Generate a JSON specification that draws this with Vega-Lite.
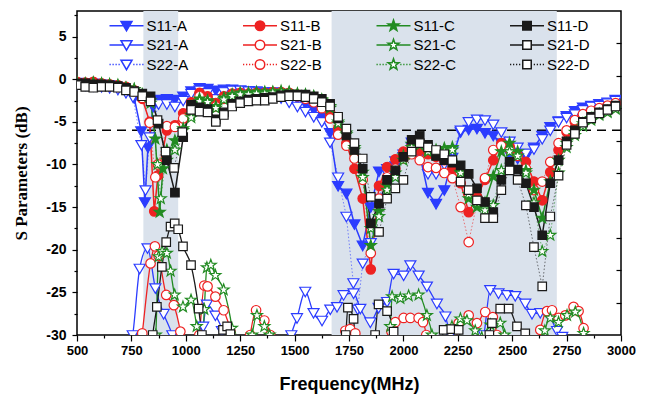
{
"$schema":"https://vega.github.io/schema/vega-lite/v6.json",
"width":544,"height":324,
"autosize":{"type":"none"},
"padding":{"left":77,"top":11,"right":31,"bottom":63},
"background":"white",
"config":{"view":{"stroke":"#000","strokeWidth":1.5},"axis":{"domain":false,"tickColor":"#000","tickWidth":1.2,"labelColor":"#000","titleColor":"#000","grid":false}},
"data":{"values":[
{"s":"S11-A","f":500,"v":-0.4},{"s":"S11-A","f":538,"v":-0.5},{"s":"S11-A","f":575,"v":-0.5},{"s":"S11-A","f":613,"v":-0.6},{"s":"S11-A","f":650,"v":-0.7},{"s":"S11-A","f":688,"v":-0.9},{"s":"S11-A","f":725,"v":-1.3},{"s":"S11-A","f":763,"v":-2.2},{"s":"S11-A","f":795,"v":-6.1},{"s":"S11-A","f":812,"v":-14.4},{"s":"S11-A","f":826,"v":-8.0},{"s":"S11-A","f":850,"v":-3.2},{"s":"S11-A","f":875,"v":-2.4},{"s":"S11-A","f":913,"v":-2.3},{"s":"S11-A","f":950,"v":-2.4},{"s":"S11-A","f":988,"v":-2.0},{"s":"S11-A","f":1025,"v":-1.4},{"s":"S11-A","f":1063,"v":-1.0},{"s":"S11-A","f":1100,"v":-1.1},{"s":"S11-A","f":1138,"v":-1.3},{"s":"S11-A","f":1175,"v":-1.2},{"s":"S11-A","f":1213,"v":-1.2},{"s":"S11-A","f":1250,"v":-1.3},{"s":"S11-A","f":1288,"v":-1.4},{"s":"S11-A","f":1325,"v":-1.4},{"s":"S11-A","f":1363,"v":-1.5},{"s":"S11-A","f":1400,"v":-1.5},{"s":"S11-A","f":1438,"v":-1.7},{"s":"S11-A","f":1475,"v":-1.9},{"s":"S11-A","f":1513,"v":-2.3},{"s":"S11-A","f":1550,"v":-2.9},{"s":"S11-A","f":1588,"v":-3.6},{"s":"S11-A","f":1625,"v":-4.5},{"s":"S11-A","f":1663,"v":-6.3},{"s":"S11-A","f":1700,"v":-12.5},{"s":"S11-A","f":1738,"v":-13.4},{"s":"S11-A","f":1775,"v":-17.0},{"s":"S11-A","f":1813,"v":-19.5},{"s":"S11-A","f":1850,"v":-15.0},{"s":"S11-A","f":1888,"v":-10.8},{"s":"S11-A","f":1925,"v":-10.5},{"s":"S11-A","f":1963,"v":-10.2},{"s":"S11-A","f":2000,"v":-9.1},{"s":"S11-A","f":2038,"v":-7.4},{"s":"S11-A","f":2075,"v":-8.8},{"s":"S11-A","f":2113,"v":-13.3},{"s":"S11-A","f":2150,"v":-14.6},{"s":"S11-A","f":2188,"v":-13.0},{"s":"S11-A","f":2225,"v":-9.2},{"s":"S11-A","f":2263,"v":-6.2},{"s":"S11-A","f":2300,"v":-5.9},{"s":"S11-A","f":2338,"v":-5.8},{"s":"S11-A","f":2375,"v":-6.3},{"s":"S11-A","f":2413,"v":-6.6},{"s":"S11-A","f":2450,"v":-7.5},{"s":"S11-A","f":2488,"v":-8.8},{"s":"S11-A","f":2525,"v":-9.3},{"s":"S11-A","f":2563,"v":-9.1},{"s":"S11-A","f":2600,"v":-8.0},{"s":"S11-A","f":2638,"v":-6.6},{"s":"S11-A","f":2675,"v":-5.6},{"s":"S11-A","f":2713,"v":-4.9},{"s":"S11-A","f":2750,"v":-4.3},{"s":"S11-A","f":2788,"v":-3.7},{"s":"S11-A","f":2825,"v":-3.3},{"s":"S11-A","f":2863,"v":-3.1},{"s":"S11-A","f":2900,"v":-2.9},{"s":"S11-A","f":2938,"v":-2.7},{"s":"S11-A","f":2975,"v":-2.4},
{"s":"S22-A","f":500,"v":-0.6},{"s":"S22-A","f":538,"v":-0.7},{"s":"S22-A","f":575,"v":-0.8},{"s":"S22-A","f":613,"v":-0.9},{"s":"S22-A","f":650,"v":-1.0},{"s":"S22-A","f":688,"v":-1.2},{"s":"S22-A","f":725,"v":-1.6},{"s":"S22-A","f":757,"v":-2.1},{"s":"S22-A","f":796,"v":-7.7},{"s":"S22-A","f":815,"v":-13.0},{"s":"S22-A","f":834,"v":-6.8},{"s":"S22-A","f":875,"v":-2.9},{"s":"S22-A","f":913,"v":-2.9},{"s":"S22-A","f":950,"v":-3.2},{"s":"S22-A","f":988,"v":-2.5},{"s":"S22-A","f":1025,"v":-1.7},{"s":"S22-A","f":1063,"v":-1.3},{"s":"S22-A","f":1100,"v":-1.6},{"s":"S22-A","f":1138,"v":-2.3},{"s":"S22-A","f":1175,"v":-1.5},{"s":"S22-A","f":1213,"v":-1.3},{"s":"S22-A","f":1250,"v":-1.3},{"s":"S22-A","f":1288,"v":-1.4},{"s":"S22-A","f":1325,"v":-1.5},{"s":"S22-A","f":1363,"v":-1.6},{"s":"S22-A","f":1400,"v":-1.8},{"s":"S22-A","f":1438,"v":-2.2},{"s":"S22-A","f":1475,"v":-2.7},{"s":"S22-A","f":1513,"v":-3.2},{"s":"S22-A","f":1550,"v":-3.8},{"s":"S22-A","f":1588,"v":-4.4},{"s":"S22-A","f":1625,"v":-5.0},{"s":"S22-A","f":1663,"v":-7.4},{"s":"S22-A","f":1700,"v":-11.5},{"s":"S22-A","f":1738,"v":-16.1},{"s":"S22-A","f":1770,"v":-23.9},{"s":"S22-A","f":1790,"v":-27.0},{"s":"S22-A","f":1813,"v":-21.6},{"s":"S22-A","f":1850,"v":-19.2},{"s":"S22-A","f":1888,"v":-14.0},{"s":"S22-A","f":1925,"v":-11.0},{"s":"S22-A","f":1963,"v":-9.6},{"s":"S22-A","f":2000,"v":-8.8},{"s":"S22-A","f":2038,"v":-8.0},{"s":"S22-A","f":2075,"v":-8.3},{"s":"S22-A","f":2113,"v":-11.1},{"s":"S22-A","f":2150,"v":-11.1},{"s":"S22-A","f":2188,"v":-10.0},{"s":"S22-A","f":2225,"v":-8.4},{"s":"S22-A","f":2263,"v":-6.0},{"s":"S22-A","f":2300,"v":-5.0},{"s":"S22-A","f":2338,"v":-4.7},{"s":"S22-A","f":2375,"v":-4.8},{"s":"S22-A","f":2413,"v":-5.3},{"s":"S22-A","f":2450,"v":-6.2},{"s":"S22-A","f":2488,"v":-7.3},{"s":"S22-A","f":2525,"v":-8.0},{"s":"S22-A","f":2563,"v":-8.7},{"s":"S22-A","f":2600,"v":-8.2},{"s":"S22-A","f":2638,"v":-7.0},{"s":"S22-A","f":2675,"v":-6.0},{"s":"S22-A","f":2713,"v":-5.0},{"s":"S22-A","f":2750,"v":-4.5},{"s":"S22-A","f":2788,"v":-4.1},{"s":"S22-A","f":2825,"v":-3.6},{"s":"S22-A","f":2863,"v":-3.2},{"s":"S22-A","f":2900,"v":-3.1},{"s":"S22-A","f":2938,"v":-2.8},{"s":"S22-A","f":2975,"v":-2.5},
{"s":"S21-A","f":720,"v":-33},{"s":"S21-A","f":756,"v":-30.0},{"s":"S21-A","f":788,"v":-22.2},{"s":"S21-A","f":824,"v":-19.8},{"s":"S21-A","f":860,"v":-24.5},{"s":"S21-A","f":898,"v":-27.5},{"s":"S21-A","f":938,"v":-30.0},{"s":"S21-A","f":960,"v":-32},{"s":"S21-A","f":1065,"v":-32},{"s":"S21-A","f":1080,"v":-29.0},{"s":"S21-A","f":1097,"v":-26.4},{"s":"S21-A","f":1136,"v":-27.7},{"s":"S21-A","f":1166,"v":-29.5},{"s":"S21-A","f":1182,"v":-32},{"s":"S21-A","f":1470,"v":-32},{"s":"S21-A","f":1485,"v":-30.0},{"s":"S21-A","f":1511,"v":-28.0},{"s":"S21-A","f":1549,"v":-24.9},{"s":"S21-A","f":1587,"v":-27.4},{"s":"S21-A","f":1626,"v":-28.3},{"s":"S21-A","f":1664,"v":-27.0},{"s":"S21-A","f":1695,"v":-26.7},{"s":"S21-A","f":1725,"v":-25.3},{"s":"S21-A","f":1771,"v":-25.1},{"s":"S21-A","f":1802,"v":-26.9},{"s":"S21-A","f":1848,"v":-28.5},{"s":"S21-A","f":1886,"v":-26.8},{"s":"S21-A","f":1925,"v":-26.1},{"s":"S21-A","f":1955,"v":-22.8},{"s":"S21-A","f":2001,"v":-23.0},{"s":"S21-A","f":2032,"v":-21.8},{"s":"S21-A","f":2070,"v":-23.0},{"s":"S21-A","f":2108,"v":-24.3},{"s":"S21-A","f":2154,"v":-26.3},{"s":"S21-A","f":2193,"v":-27.8},{"s":"S21-A","f":2215,"v":-30.0},{"s":"S21-A","f":2240,"v":-32},{"s":"S21-A","f":2350,"v":-32},{"s":"S21-A","f":2370,"v":-30.0},{"s":"S21-A","f":2399,"v":-24.7},{"s":"S21-A","f":2437,"v":-25.1},{"s":"S21-A","f":2476,"v":-25.3},{"s":"S21-A","f":2514,"v":-25.4},{"s":"S21-A","f":2560,"v":-26.3},{"s":"S21-A","f":2591,"v":-27.5},{"s":"S21-A","f":2629,"v":-27.4},{"s":"S21-A","f":2667,"v":-27.7},{"s":"S21-A","f":2706,"v":-29.5},{"s":"S21-A","f":2730,"v":-30.2},{"s":"S21-A","f":2760,"v":-32},
{"s":"S11-B","f":500,"v":-0.3},{"s":"S11-B","f":538,"v":-0.4},{"s":"S11-B","f":575,"v":-0.3},{"s":"S11-B","f":613,"v":-0.5},{"s":"S11-B","f":650,"v":-0.6},{"s":"S11-B","f":688,"v":-0.7},{"s":"S11-B","f":725,"v":-0.9},{"s":"S11-B","f":763,"v":-1.3},{"s":"S11-B","f":800,"v":-2.3},{"s":"S11-B","f":834,"v":-5.0},{"s":"S11-B","f":855,"v":-15.5},{"s":"S11-B","f":872,"v":-11.3},{"s":"S11-B","f":913,"v":-6.0},{"s":"S11-B","f":950,"v":-5.4},{"s":"S11-B","f":988,"v":-4.0},{"s":"S11-B","f":1025,"v":-2.7},{"s":"S11-B","f":1063,"v":-1.6},{"s":"S11-B","f":1100,"v":-2.0},{"s":"S11-B","f":1138,"v":-2.8},{"s":"S11-B","f":1175,"v":-2.0},{"s":"S11-B","f":1213,"v":-1.7},{"s":"S11-B","f":1250,"v":-1.6},{"s":"S11-B","f":1288,"v":-1.7},{"s":"S11-B","f":1325,"v":-1.6},{"s":"S11-B","f":1363,"v":-1.6},{"s":"S11-B","f":1400,"v":-1.5},{"s":"S11-B","f":1438,"v":-1.5},{"s":"S11-B","f":1475,"v":-1.6},{"s":"S11-B","f":1513,"v":-1.8},{"s":"S11-B","f":1550,"v":-2.0},{"s":"S11-B","f":1588,"v":-2.3},{"s":"S11-B","f":1625,"v":-2.8},{"s":"S11-B","f":1663,"v":-4.0},{"s":"S11-B","f":1700,"v":-5.8},{"s":"S11-B","f":1738,"v":-7.5},{"s":"S11-B","f":1775,"v":-10.5},{"s":"S11-B","f":1813,"v":-14.0},{"s":"S11-B","f":1850,"v":-22.3},{"s":"S11-B","f":1888,"v":-12.5},{"s":"S11-B","f":1925,"v":-10.3},{"s":"S11-B","f":1963,"v":-9.4},{"s":"S11-B","f":2000,"v":-8.5},{"s":"S11-B","f":2038,"v":-7.8},{"s":"S11-B","f":2075,"v":-8.3},{"s":"S11-B","f":2113,"v":-8.8},{"s":"S11-B","f":2150,"v":-9.1},{"s":"S11-B","f":2188,"v":-9.5},{"s":"S11-B","f":2225,"v":-10.5},{"s":"S11-B","f":2263,"v":-12.2},{"s":"S11-B","f":2300,"v":-15.6},{"s":"S11-B","f":2338,"v":-13.8},{"s":"S11-B","f":2375,"v":-11.8},{"s":"S11-B","f":2413,"v":-9.5},{"s":"S11-B","f":2450,"v":-7.5},{"s":"S11-B","f":2488,"v":-7.9},{"s":"S11-B","f":2525,"v":-8.9},{"s":"S11-B","f":2563,"v":-9.7},{"s":"S11-B","f":2600,"v":-12.0},{"s":"S11-B","f":2638,"v":-14.2},{"s":"S11-B","f":2675,"v":-10.9},{"s":"S11-B","f":2713,"v":-8.3},{"s":"S11-B","f":2750,"v":-6.2},{"s":"S11-B","f":2788,"v":-5.0},{"s":"S11-B","f":2825,"v":-4.3},{"s":"S11-B","f":2863,"v":-3.9},{"s":"S11-B","f":2900,"v":-3.5},{"s":"S11-B","f":2938,"v":-3.2},{"s":"S11-B","f":2975,"v":-2.9},
{"s":"S22-B","f":500,"v":-0.5},{"s":"S22-B","f":538,"v":-0.6},{"s":"S22-B","f":575,"v":-0.5},{"s":"S22-B","f":613,"v":-0.6},{"s":"S22-B","f":650,"v":-0.8},{"s":"S22-B","f":688,"v":-0.9},{"s":"S22-B","f":725,"v":-1.1},{"s":"S22-B","f":763,"v":-1.4},{"s":"S22-B","f":800,"v":-2.2},{"s":"S22-B","f":834,"v":-5.1},{"s":"S22-B","f":860,"v":-11.5},{"s":"S22-B","f":872,"v":-10.0},{"s":"S22-B","f":913,"v":-5.5},{"s":"S22-B","f":950,"v":-5.6},{"s":"S22-B","f":988,"v":-4.6},{"s":"S22-B","f":1025,"v":-3.0},{"s":"S22-B","f":1063,"v":-2.0},{"s":"S22-B","f":1100,"v":-2.5},{"s":"S22-B","f":1138,"v":-3.2},{"s":"S22-B","f":1175,"v":-2.3},{"s":"S22-B","f":1213,"v":-1.9},{"s":"S22-B","f":1250,"v":-1.9},{"s":"S22-B","f":1288,"v":-2.0},{"s":"S22-B","f":1325,"v":-1.9},{"s":"S22-B","f":1363,"v":-1.8},{"s":"S22-B","f":1400,"v":-1.7},{"s":"S22-B","f":1438,"v":-1.6},{"s":"S22-B","f":1475,"v":-1.7},{"s":"S22-B","f":1513,"v":-2.0},{"s":"S22-B","f":1550,"v":-2.3},{"s":"S22-B","f":1588,"v":-2.7},{"s":"S22-B","f":1625,"v":-3.4},{"s":"S22-B","f":1663,"v":-4.6},{"s":"S22-B","f":1700,"v":-6.5},{"s":"S22-B","f":1738,"v":-7.8},{"s":"S22-B","f":1775,"v":-9.3},{"s":"S22-B","f":1813,"v":-11.8},{"s":"S22-B","f":1850,"v":-20.4},{"s":"S22-B","f":1888,"v":-14.0},{"s":"S22-B","f":1925,"v":-11.5},{"s":"S22-B","f":1963,"v":-10.5},{"s":"S22-B","f":2000,"v":-9.3},{"s":"S22-B","f":2038,"v":-8.8},{"s":"S22-B","f":2075,"v":-9.5},{"s":"S22-B","f":2113,"v":-10.3},{"s":"S22-B","f":2150,"v":-10.4},{"s":"S22-B","f":2188,"v":-11.0},{"s":"S22-B","f":2225,"v":-11.6},{"s":"S22-B","f":2263,"v":-15.0},{"s":"S22-B","f":2300,"v":-19.1},{"s":"S22-B","f":2338,"v":-14.5},{"s":"S22-B","f":2375,"v":-11.6},{"s":"S22-B","f":2413,"v":-8.3},{"s":"S22-B","f":2450,"v":-7.8},{"s":"S22-B","f":2488,"v":-8.2},{"s":"S22-B","f":2525,"v":-9.0},{"s":"S22-B","f":2563,"v":-10.5},{"s":"S22-B","f":2600,"v":-13.0},{"s":"S22-B","f":2638,"v":-12.0},{"s":"S22-B","f":2675,"v":-9.7},{"s":"S22-B","f":2713,"v":-7.5},{"s":"S22-B","f":2750,"v":-6.0},{"s":"S22-B","f":2788,"v":-4.8},{"s":"S22-B","f":2825,"v":-4.1},{"s":"S22-B","f":2863,"v":-3.7},{"s":"S22-B","f":2900,"v":-3.4},{"s":"S22-B","f":2938,"v":-3.1},{"s":"S22-B","f":2975,"v":-2.8},
{"s":"S21-B","f":790,"v":-32},{"s":"S21-B","f":800,"v":-29.8},{"s":"S21-B","f":838,"v":-21.6},{"s":"S21-B","f":858,"v":-19.6},{"s":"S21-B","f":875,"v":-20.7},{"s":"S21-B","f":910,"v":-25.3},{"s":"S21-B","f":945,"v":-26.5},{"s":"S21-B","f":975,"v":-29.6},{"s":"S21-B","f":990,"v":-32},{"s":"S21-B","f":1050,"v":-32},{"s":"S21-B","f":1062,"v":-30.0},{"s":"S21-B","f":1085,"v":-24.2},{"s":"S21-B","f":1100,"v":-24.3},{"s":"S21-B","f":1136,"v":-25.5},{"s":"S21-B","f":1174,"v":-27.1},{"s":"S21-B","f":1205,"v":-29.6},{"s":"S21-B","f":1220,"v":-32},{"s":"S21-B","f":1285,"v":-32},{"s":"S21-B","f":1296,"v":-30.0},{"s":"S21-B","f":1323,"v":-27.1},{"s":"S21-B","f":1361,"v":-28.3},{"s":"S21-B","f":1388,"v":-30.0},{"s":"S21-B","f":1400,"v":-32},{"s":"S21-B","f":1715,"v":-32},{"s":"S21-B","f":1733,"v":-29.5},{"s":"S21-B","f":1755,"v":-29.3},{"s":"S21-B","f":1779,"v":-29.8},{"s":"S21-B","f":1795,"v":-32},{"s":"S21-B","f":1930,"v":-32},{"s":"S21-B","f":1945,"v":-29.6},{"s":"S21-B","f":1963,"v":-28.5},{"s":"S21-B","f":2001,"v":-28.0},{"s":"S21-B","f":2032,"v":-28.0},{"s":"S21-B","f":2070,"v":-28.0},{"s":"S21-B","f":2090,"v":-28.5},{"s":"S21-B","f":2105,"v":-30.0},{"s":"S21-B","f":2115,"v":-32},{"s":"S21-B","f":2235,"v":-32},{"s":"S21-B","f":2254,"v":-28.6},{"s":"S21-B","f":2300,"v":-27.7},{"s":"S21-B","f":2338,"v":-28.6},{"s":"S21-B","f":2376,"v":-27.3},{"s":"S21-B","f":2411,"v":-27.9},{"s":"S21-B","f":2430,"v":-30.0},{"s":"S21-B","f":2445,"v":-32},{"s":"S21-B","f":2610,"v":-32},{"s":"S21-B","f":2629,"v":-29.4},{"s":"S21-B","f":2660,"v":-27.2},{"s":"S21-B","f":2683,"v":-27.1},{"s":"S21-B","f":2713,"v":-28.0},{"s":"S21-B","f":2744,"v":-27.7},{"s":"S21-B","f":2782,"v":-26.7},{"s":"S21-B","f":2805,"v":-27.2},{"s":"S21-B","f":2828,"v":-29.2},{"s":"S21-B","f":2840,"v":-32},
{"s":"S11-C","f":500,"v":-0.4},{"s":"S11-C","f":538,"v":-0.5},{"s":"S11-C","f":575,"v":-0.4},{"s":"S11-C","f":613,"v":-0.5},{"s":"S11-C","f":650,"v":-0.6},{"s":"S11-C","f":688,"v":-0.7},{"s":"S11-C","f":725,"v":-1.0},{"s":"S11-C","f":763,"v":-1.2},{"s":"S11-C","f":800,"v":-1.8},{"s":"S11-C","f":838,"v":-2.5},{"s":"S11-C","f":860,"v":-7.0},{"s":"S11-C","f":880,"v":-15.6},{"s":"S11-C","f":895,"v":-10.5},{"s":"S11-C","f":913,"v":-9.5},{"s":"S11-C","f":950,"v":-7.2},{"s":"S11-C","f":988,"v":-5.8},{"s":"S11-C","f":1025,"v":-4.2},{"s":"S11-C","f":1063,"v":-2.3},{"s":"S11-C","f":1100,"v":-2.5},{"s":"S11-C","f":1138,"v":-3.2},{"s":"S11-C","f":1175,"v":-2.2},{"s":"S11-C","f":1213,"v":-1.8},{"s":"S11-C","f":1250,"v":-1.6},{"s":"S11-C","f":1288,"v":-1.6},{"s":"S11-C","f":1325,"v":-1.5},{"s":"S11-C","f":1363,"v":-1.5},{"s":"S11-C","f":1400,"v":-1.5},{"s":"S11-C","f":1438,"v":-1.4},{"s":"S11-C","f":1475,"v":-1.5},{"s":"S11-C","f":1513,"v":-1.7},{"s":"S11-C","f":1550,"v":-1.8},{"s":"S11-C","f":1588,"v":-2.0},{"s":"S11-C","f":1625,"v":-2.4},{"s":"S11-C","f":1663,"v":-3.2},{"s":"S11-C","f":1700,"v":-5.0},{"s":"S11-C","f":1738,"v":-6.3},{"s":"S11-C","f":1775,"v":-8.0},{"s":"S11-C","f":1813,"v":-10.9},{"s":"S11-C","f":1850,"v":-19.5},{"s":"S11-C","f":1888,"v":-15.5},{"s":"S11-C","f":1925,"v":-12.5},{"s":"S11-C","f":1963,"v":-11.0},{"s":"S11-C","f":2000,"v":-9.0},{"s":"S11-C","f":2038,"v":-7.6},{"s":"S11-C","f":2075,"v":-7.5},{"s":"S11-C","f":2113,"v":-8.3},{"s":"S11-C","f":2150,"v":-8.3},{"s":"S11-C","f":2188,"v":-8.1},{"s":"S11-C","f":2225,"v":-8.0},{"s":"S11-C","f":2263,"v":-10.9},{"s":"S11-C","f":2300,"v":-14.0},{"s":"S11-C","f":2338,"v":-15.0},{"s":"S11-C","f":2375,"v":-14.5},{"s":"S11-C","f":2413,"v":-11.4},{"s":"S11-C","f":2450,"v":-8.5},{"s":"S11-C","f":2488,"v":-7.5},{"s":"S11-C","f":2525,"v":-8.5},{"s":"S11-C","f":2563,"v":-10.7},{"s":"S11-C","f":2600,"v":-13.0},{"s":"S11-C","f":2638,"v":-16.3},{"s":"S11-C","f":2675,"v":-12.0},{"s":"S11-C","f":2713,"v":-9.5},{"s":"S11-C","f":2750,"v":-7.5},{"s":"S11-C","f":2788,"v":-6.2},{"s":"S11-C","f":2825,"v":-5.2},{"s":"S11-C","f":2863,"v":-4.6},{"s":"S11-C","f":2900,"v":-4.1},{"s":"S11-C","f":2938,"v":-3.8},{"s":"S11-C","f":2975,"v":-3.4},
{"s":"S22-C","f":500,"v":-0.5},{"s":"S22-C","f":538,"v":-0.6},{"s":"S22-C","f":575,"v":-0.5},{"s":"S22-C","f":613,"v":-0.6},{"s":"S22-C","f":650,"v":-0.7},{"s":"S22-C","f":688,"v":-0.8},{"s":"S22-C","f":725,"v":-1.1},{"s":"S22-C","f":763,"v":-1.2},{"s":"S22-C","f":800,"v":-1.9},{"s":"S22-C","f":838,"v":-2.8},{"s":"S22-C","f":870,"v":-10.0},{"s":"S22-C","f":885,"v":-14.0},{"s":"S22-C","f":913,"v":-8.3},{"s":"S22-C","f":950,"v":-8.3},{"s":"S22-C","f":988,"v":-6.0},{"s":"S22-C","f":1025,"v":-4.5},{"s":"S22-C","f":1063,"v":-2.6},{"s":"S22-C","f":1100,"v":-2.7},{"s":"S22-C","f":1138,"v":-3.4},{"s":"S22-C","f":1175,"v":-2.4},{"s":"S22-C","f":1213,"v":-2.0},{"s":"S22-C","f":1250,"v":-1.8},{"s":"S22-C","f":1288,"v":-1.8},{"s":"S22-C","f":1325,"v":-1.7},{"s":"S22-C","f":1363,"v":-1.7},{"s":"S22-C","f":1400,"v":-1.6},{"s":"S22-C","f":1438,"v":-1.6},{"s":"S22-C","f":1475,"v":-1.6},{"s":"S22-C","f":1513,"v":-1.8},{"s":"S22-C","f":1550,"v":-1.9},{"s":"S22-C","f":1588,"v":-2.1},{"s":"S22-C","f":1625,"v":-2.5},{"s":"S22-C","f":1663,"v":-3.4},{"s":"S22-C","f":1700,"v":-5.2},{"s":"S22-C","f":1738,"v":-6.5},{"s":"S22-C","f":1775,"v":-8.3},{"s":"S22-C","f":1813,"v":-11.5},{"s":"S22-C","f":1850,"v":-17.5},{"s":"S22-C","f":1888,"v":-16.1},{"s":"S22-C","f":1925,"v":-13.0},{"s":"S22-C","f":1963,"v":-11.5},{"s":"S22-C","f":2000,"v":-9.5},{"s":"S22-C","f":2038,"v":-8.0},{"s":"S22-C","f":2075,"v":-7.7},{"s":"S22-C","f":2113,"v":-8.5},{"s":"S22-C","f":2150,"v":-8.7},{"s":"S22-C","f":2188,"v":-8.5},{"s":"S22-C","f":2225,"v":-8.3},{"s":"S22-C","f":2263,"v":-11.0},{"s":"S22-C","f":2300,"v":-13.5},{"s":"S22-C","f":2338,"v":-14.5},{"s":"S22-C","f":2375,"v":-15.4},{"s":"S22-C","f":2413,"v":-14.8},{"s":"S22-C","f":2450,"v":-10.7},{"s":"S22-C","f":2488,"v":-8.5},{"s":"S22-C","f":2525,"v":-9.0},{"s":"S22-C","f":2563,"v":-11.0},{"s":"S22-C","f":2600,"v":-14.5},{"s":"S22-C","f":2638,"v":-20.2},{"s":"S22-C","f":2675,"v":-18.3},{"s":"S22-C","f":2713,"v":-11.0},{"s":"S22-C","f":2750,"v":-8.0},{"s":"S22-C","f":2788,"v":-6.6},{"s":"S22-C","f":2825,"v":-5.5},{"s":"S22-C","f":2863,"v":-4.8},{"s":"S22-C","f":2900,"v":-4.2},{"s":"S22-C","f":2938,"v":-3.9},{"s":"S22-C","f":2975,"v":-3.5},
{"s":"S21-C","f":855,"v":-32},{"s":"S21-C","f":862,"v":-30.0},{"s":"S21-C","f":875,"v":-20.8},{"s":"S21-C","f":891,"v":-20.2},{"s":"S21-C","f":913,"v":-20.4},{"s":"S21-C","f":930,"v":-22.5},{"s":"S21-C","f":949,"v":-25.3},{"s":"S21-C","f":987,"v":-26.7},{"s":"S21-C","f":1024,"v":-25.9},{"s":"S21-C","f":1050,"v":-29.0},{"s":"S21-C","f":1065,"v":-32},{"s":"S21-C","f":1075,"v":-32},{"s":"S21-C","f":1085,"v":-27.0},{"s":"S21-C","f":1097,"v":-22.1},{"s":"S21-C","f":1115,"v":-21.8},{"s":"S21-C","f":1136,"v":-23.0},{"s":"S21-C","f":1174,"v":-24.7},{"s":"S21-C","f":1212,"v":-29.2},{"s":"S21-C","f":1225,"v":-32},{"s":"S21-C","f":1295,"v":-32},{"s":"S21-C","f":1305,"v":-30.0},{"s":"S21-C","f":1327,"v":-27.7},{"s":"S21-C","f":1361,"v":-29.0},{"s":"S21-C","f":1385,"v":-30.0},{"s":"S21-C","f":1395,"v":-32},{"s":"S21-C","f":1930,"v":-32},{"s":"S21-C","f":1940,"v":-29.0},{"s":"S21-C","f":1948,"v":-25.5},{"s":"S21-C","f":1986,"v":-25.7},{"s":"S21-C","f":2024,"v":-25.4},{"s":"S21-C","f":2070,"v":-25.3},{"s":"S21-C","f":2108,"v":-27.7},{"s":"S21-C","f":2131,"v":-30.0},{"s":"S21-C","f":2140,"v":-32},{"s":"S21-C","f":2205,"v":-32},{"s":"S21-C","f":2223,"v":-29.0},{"s":"S21-C","f":2262,"v":-28.1},{"s":"S21-C","f":2292,"v":-28.3},{"s":"S21-C","f":2330,"v":-29.5},{"s":"S21-C","f":2360,"v":-30.3},{"s":"S21-C","f":2400,"v":-28.8},{"s":"S21-C","f":2445,"v":-28.6},{"s":"S21-C","f":2465,"v":-30.0},{"s":"S21-C","f":2480,"v":-32},{"s":"S21-C","f":2630,"v":-32},{"s":"S21-C","f":2650,"v":-29.5},{"s":"S21-C","f":2675,"v":-28.0},{"s":"S21-C","f":2713,"v":-28.5},{"s":"S21-C","f":2752,"v":-27.7},{"s":"S21-C","f":2790,"v":-27.3},{"s":"S21-C","f":2828,"v":-29.8},{"s":"S21-C","f":2840,"v":-32},
{"s":"S11-D","f":500,"v":-0.5},{"s":"S11-D","f":538,"v":-0.5},{"s":"S11-D","f":575,"v":-0.6},{"s":"S11-D","f":613,"v":-0.6},{"s":"S11-D","f":650,"v":-0.7},{"s":"S11-D","f":688,"v":-0.8},{"s":"S11-D","f":725,"v":-1.0},{"s":"S11-D","f":763,"v":-1.4},{"s":"S11-D","f":800,"v":-1.7},{"s":"S11-D","f":838,"v":-2.0},{"s":"S11-D","f":875,"v":-5.2},{"s":"S11-D","f":913,"v":-9.5},{"s":"S11-D","f":950,"v":-13.3},{"s":"S11-D","f":988,"v":-6.8},{"s":"S11-D","f":1025,"v":-3.0},{"s":"S11-D","f":1063,"v":-3.3},{"s":"S11-D","f":1100,"v":-3.5},{"s":"S11-D","f":1138,"v":-4.7},{"s":"S11-D","f":1175,"v":-3.9},{"s":"S11-D","f":1213,"v":-2.9},{"s":"S11-D","f":1250,"v":-2.6},{"s":"S11-D","f":1288,"v":-2.4},{"s":"S11-D","f":1325,"v":-2.3},{"s":"S11-D","f":1363,"v":-2.2},{"s":"S11-D","f":1400,"v":-2.1},{"s":"S11-D","f":1438,"v":-1.9},{"s":"S11-D","f":1475,"v":-1.8},{"s":"S11-D","f":1513,"v":-1.8},{"s":"S11-D","f":1550,"v":-1.8},{"s":"S11-D","f":1588,"v":-2.0},{"s":"S11-D","f":1625,"v":-2.3},{"s":"S11-D","f":1663,"v":-2.9},{"s":"S11-D","f":1700,"v":-4.6},{"s":"S11-D","f":1738,"v":-6.6},{"s":"S11-D","f":1775,"v":-8.3},{"s":"S11-D","f":1813,"v":-10.5},{"s":"S11-D","f":1850,"v":-16.9},{"s":"S11-D","f":1888,"v":-14.6},{"s":"S11-D","f":1925,"v":-11.8},{"s":"S11-D","f":1963,"v":-10.7},{"s":"S11-D","f":2000,"v":-9.1},{"s":"S11-D","f":2038,"v":-7.1},{"s":"S11-D","f":2075,"v":-6.6},{"s":"S11-D","f":2113,"v":-7.7},{"s":"S11-D","f":2150,"v":-9.0},{"s":"S11-D","f":2188,"v":-9.5},{"s":"S11-D","f":2225,"v":-9.8},{"s":"S11-D","f":2263,"v":-10.1},{"s":"S11-D","f":2300,"v":-11.1},{"s":"S11-D","f":2338,"v":-12.8},{"s":"S11-D","f":2375,"v":-14.4},{"s":"S11-D","f":2413,"v":-15.6},{"s":"S11-D","f":2450,"v":-11.8},{"s":"S11-D","f":2488,"v":-9.7},{"s":"S11-D","f":2525,"v":-10.6},{"s":"S11-D","f":2563,"v":-12.2},{"s":"S11-D","f":2600,"v":-15.0},{"s":"S11-D","f":2638,"v":-18.3},{"s":"S11-D","f":2675,"v":-12.2},{"s":"S11-D","f":2713,"v":-9.5},{"s":"S11-D","f":2750,"v":-7.3},{"s":"S11-D","f":2788,"v":-6.0},{"s":"S11-D","f":2825,"v":-5.0},{"s":"S11-D","f":2863,"v":-4.4},{"s":"S11-D","f":2900,"v":-3.9},{"s":"S11-D","f":2938,"v":-3.5},{"s":"S11-D","f":2975,"v":-3.1},
{"s":"S22-D","f":500,"v":-0.7},{"s":"S22-D","f":538,"v":-0.9},{"s":"S22-D","f":575,"v":-1.0},{"s":"S22-D","f":613,"v":-0.9},{"s":"S22-D","f":650,"v":-0.9},{"s":"S22-D","f":688,"v":-1.0},{"s":"S22-D","f":725,"v":-1.3},{"s":"S22-D","f":763,"v":-1.5},{"s":"S22-D","f":800,"v":-2.0},{"s":"S22-D","f":838,"v":-2.6},{"s":"S22-D","f":870,"v":-4.8},{"s":"S22-D","f":907,"v":-8.5},{"s":"S22-D","f":946,"v":-10.4},{"s":"S22-D","f":984,"v":-6.2},{"s":"S22-D","f":1025,"v":-3.6},{"s":"S22-D","f":1063,"v":-3.8},{"s":"S22-D","f":1100,"v":-3.9},{"s":"S22-D","f":1138,"v":-5.0},{"s":"S22-D","f":1175,"v":-4.2},{"s":"S22-D","f":1213,"v":-3.2},{"s":"S22-D","f":1250,"v":-2.8},{"s":"S22-D","f":1288,"v":-2.6},{"s":"S22-D","f":1325,"v":-2.5},{"s":"S22-D","f":1363,"v":-2.5},{"s":"S22-D","f":1400,"v":-2.3},{"s":"S22-D","f":1438,"v":-2.1},{"s":"S22-D","f":1475,"v":-2.0},{"s":"S22-D","f":1513,"v":-2.0},{"s":"S22-D","f":1550,"v":-2.1},{"s":"S22-D","f":1588,"v":-2.3},{"s":"S22-D","f":1625,"v":-2.7},{"s":"S22-D","f":1663,"v":-3.2},{"s":"S22-D","f":1700,"v":-4.4},{"s":"S22-D","f":1738,"v":-5.8},{"s":"S22-D","f":1775,"v":-7.5},{"s":"S22-D","f":1813,"v":-9.3},{"s":"S22-D","f":1850,"v":-13.8},{"s":"S22-D","f":1888,"v":-17.9},{"s":"S22-D","f":1925,"v":-14.0},{"s":"S22-D","f":1963,"v":-12.8},{"s":"S22-D","f":2000,"v":-11.8},{"s":"S22-D","f":2038,"v":-8.5},{"s":"S22-D","f":2075,"v":-7.5},{"s":"S22-D","f":2113,"v":-8.0},{"s":"S22-D","f":2150,"v":-8.3},{"s":"S22-D","f":2188,"v":-8.8},{"s":"S22-D","f":2225,"v":-9.5},{"s":"S22-D","f":2263,"v":-12.0},{"s":"S22-D","f":2300,"v":-13.0},{"s":"S22-D","f":2338,"v":-14.2},{"s":"S22-D","f":2375,"v":-16.3},{"s":"S22-D","f":2413,"v":-16.3},{"s":"S22-D","f":2450,"v":-13.0},{"s":"S22-D","f":2488,"v":-10.7},{"s":"S22-D","f":2525,"v":-11.8},{"s":"S22-D","f":2563,"v":-14.8},{"s":"S22-D","f":2600,"v":-19.7},{"s":"S22-D","f":2638,"v":-24.3},{"s":"S22-D","f":2675,"v":-16.1},{"s":"S22-D","f":2713,"v":-11.3},{"s":"S22-D","f":2750,"v":-7.7},{"s":"S22-D","f":2788,"v":-6.4},{"s":"S22-D","f":2825,"v":-5.1},{"s":"S22-D","f":2863,"v":-4.6},{"s":"S22-D","f":2900,"v":-4.0},{"s":"S22-D","f":2938,"v":-3.6},{"s":"S22-D","f":2975,"v":-3.2},
{"s":"S21-D","f":840,"v":-32},{"s":"S21-D","f":848,"v":-30.0},{"s":"S21-D","f":867,"v":-26.7},{"s":"S21-D","f":890,"v":-22.0},{"s":"S21-D","f":910,"v":-19.1},{"s":"S21-D","f":930,"v":-17.3},{"s":"S21-D","f":949,"v":-16.9},{"s":"S21-D","f":965,"v":-17.6},{"s":"S21-D","f":987,"v":-19.6},{"s":"S21-D","f":1024,"v":-21.8},{"s":"S21-D","f":1059,"v":-26.9},{"s":"S21-D","f":1074,"v":-30.0},{"s":"S21-D","f":1085,"v":-32},{"s":"S21-D","f":1150,"v":-32},{"s":"S21-D","f":1171,"v":-29.4},{"s":"S21-D","f":1190,"v":-29.0},{"s":"S21-D","f":1205,"v":-29.9},{"s":"S21-D","f":1215,"v":-32},{"s":"S21-D","f":1725,"v":-32},{"s":"S21-D","f":1735,"v":-30.0},{"s":"S21-D","f":1745,"v":-26.8},{"s":"S21-D","f":1771,"v":-28.1},{"s":"S21-D","f":1782,"v":-32},{"s":"S21-D","f":1860,"v":-32},{"s":"S21-D","f":1870,"v":-30.0},{"s":"S21-D","f":1886,"v":-26.4},{"s":"S21-D","f":1925,"v":-27.2},{"s":"S21-D","f":1955,"v":-29.6},{"s":"S21-D","f":1965,"v":-32},{"s":"S21-D","f":2170,"v":-32},{"s":"S21-D","f":2185,"v":-29.4},{"s":"S21-D","f":2220,"v":-29.3},{"s":"S21-D","f":2254,"v":-29.4},{"s":"S21-D","f":2270,"v":-32},{"s":"S21-D","f":2385,"v":-32},{"s":"S21-D","f":2395,"v":-30.0},{"s":"S21-D","f":2407,"v":-28.6},{"s":"S21-D","f":2445,"v":-26.9},{"s":"S21-D","f":2484,"v":-26.9},{"s":"S21-D","f":2522,"v":-29.0},{"s":"S21-D","f":2560,"v":-29.8},{"s":"S21-D","f":2575,"v":-32}
]},
"resolve":{"scale":{"stroke":"independent","fill":"independent","shape":"independent"},"axis":{"x":"independent","y":"independent"}},
"layer":[
{"data":{"values":[{"a":805,"b":965},{"a":1670,"b":2705}]},
 "mark":{"type":"rect","color":"#dae2ec"},
 "encoding":{"x":{"field":"a","type":"quantitative","scale":{"domain":[500,3000],"nice":false,"zero":false},"axis":null},"x2":{"field":"b"}}},
{"data":{"values":[{}]},
 "mark":{"type":"rule","strokeDash":[9,6],"strokeWidth":1.5,"color":"#000"},
 "encoding":{"y":{"datum":-6,"type":"quantitative","scale":{"domain":[-30,8],"nice":false,"zero":false},"axis":null}}},
{"transform":[{"filter":"indexof(datum.s,'S22')===0"}],
 "mark":{"type":"line","clip":true,"strokeWidth":1,"strokeDash":[1.5,2],"opacity":0.6},
 "encoding":{"x":{"field":"f","type":"quantitative","scale":{"domain":[500,3000],"nice":false,"zero":false},"axis":null},
  "y":{"field":"v","type":"quantitative","scale":{"domain":[-30,8],"nice":false,"zero":false},"axis":null},
  "stroke":{"field":"s","type":"nominal","legend":null,"scale":{"domain":["S11-A","S11-B","S11-C","S11-D","S21-A","S21-B","S21-C","S21-D","S22-A","S22-B","S22-C","S22-D"],"range":["#2b3cff","#ee2222","#228b22","#1a1a1a","#2b3cff","#ee2222","#228b22","#1a1a1a","#2b3cff","#ee2222","#228b22","#1a1a1a"]}}}},
{"transform":[{"filter":"indexof(datum.s,'S21')===0"}],
 "mark":{"type":"line","clip":true,"strokeWidth":1.3,"interpolate":"monotone"},
 "encoding":{"x":{"field":"f","type":"quantitative","scale":{"domain":[500,3000],"nice":false,"zero":false},"axis":null},
  "y":{"field":"v","type":"quantitative","scale":{"domain":[-30,8],"nice":false,"zero":false},"axis":null},
  "stroke":{"field":"s","type":"nominal","legend":null,"scale":{"domain":["S11-A","S11-B","S11-C","S11-D","S21-A","S21-B","S21-C","S21-D","S22-A","S22-B","S22-C","S22-D"],"range":["#2b3cff","#ee2222","#228b22","#1a1a1a","#2b3cff","#ee2222","#228b22","#1a1a1a","#2b3cff","#ee2222","#228b22","#1a1a1a"]}}}},
{"transform":[{"filter":"indexof(datum.s,'S11')===0"}],
 "mark":{"type":"line","clip":true,"strokeWidth":1.5},
 "encoding":{"x":{"field":"f","type":"quantitative","scale":{"domain":[500,3000],"nice":false,"zero":false},"axis":null},
  "y":{"field":"v","type":"quantitative","scale":{"domain":[-30,8],"nice":false,"zero":false},
   "axis":{"orient":"right","values":[-26.2,-22.4,-18.6,-14.8,-11,-7.2,-3.4,0.4,4.2],"labels":false,"tickSize":-5,"title":null,"domain":false,"grid":false}},
  "stroke":{"field":"s","type":"nominal","legend":null,"scale":{"domain":["S11-A","S11-B","S11-C","S11-D","S21-A","S21-B","S21-C","S21-D","S22-A","S22-B","S22-C","S22-D"],"range":["#2b3cff","#ee2222","#228b22","#1a1a1a","#2b3cff","#ee2222","#228b22","#1a1a1a","#2b3cff","#ee2222","#228b22","#1a1a1a"]}}}},
{"mark":{"type":"point","clip":true,"size":100,"strokeWidth":1.2,"opacity":1},
 "encoding":{
  "x":{"field":"f","type":"quantitative","scale":{"domain":[500,3000],"nice":false,"zero":false},
   "axis":{"orient":"bottom","values":[500,625,750,875,1000,1125,1250,1375,1500,1625,1750,1875,2000,2125,2250,2375,2500,2625,2750,2875,3000],
    "labelExpr":"datum.value % 250 === 0 ? '' + datum.value : ''",
    "tickSize":{"condition":{"test":"datum.value % 250 === 0","value":6},"value":3},
    "labelFont":"Liberation Sans","labelFontWeight":"bold","labelFontSize":13,"labelPadding":3,"labelFlush":false,"labelOverlap":false,
    "title":"Frequency(MHz)","titleFont":"Liberation Sans","titleFontWeight":"bold","titleFontSize":18,"titlePadding":18}},
  "y":{"field":"v","type":"quantitative","scale":{"domain":[-30,8],"nice":false,"zero":false},
   "axis":{"orient":"left","values":[-30,-27.5,-25,-22.5,-20,-17.5,-15,-12.5,-10,-7.5,-5,-2.5,0,2.5,5,7.5],
    "labelExpr":"datum.value % 5 === 0 ? '' + datum.value : ''",
    "tickSize":{"condition":{"test":"datum.value % 5 === 0","value":5},"value":3},
    "labelFont":"Liberation Sans","labelFontWeight":"bold","labelFontSize":14,"labelPadding":6,"labelOverlap":false,
    "title":"S Parameters  (dB)","titleFont":"Liberation Serif","titleFontWeight":"bold","titleFontSize":17,"titlePadding":15}},
  "shape":{"field":"s","type":"nominal","legend":null,"scale":{"domain":["S11-A","S11-B","S11-C","S11-D","S21-A","S21-B","S21-C","S21-D","S22-A","S22-B","S22-C","S22-D"],
   "range":["M-1.1,-0.85L1.1,-0.85L0,1.05Z","M-0.95,0A0.95,0.95,0,1,0,0.95,0A0.95,0.95,0,1,0,-0.95,0Z","M0,-1.15L0.27,-0.37L1.09,-0.36L0.44,0.14L0.68,0.93L0,0.46L-0.68,0.93L-0.44,0.14L-1.09,-0.36L-0.27,-0.37Z","M-0.85,-0.85H0.85V0.85H-0.85Z",
    "M-1.1,-0.85L1.1,-0.85L0,1.05Z","M-0.95,0A0.95,0.95,0,1,0,0.95,0A0.95,0.95,0,1,0,-0.95,0Z","M0,-1.15L0.27,-0.37L1.09,-0.36L0.44,0.14L0.68,0.93L0,0.46L-0.68,0.93L-0.44,0.14L-1.09,-0.36L-0.27,-0.37Z","M-0.85,-0.85H0.85V0.85H-0.85Z",
    "M-1.1,-0.85L1.1,-0.85L0,1.05Z","M-0.95,0A0.95,0.95,0,1,0,0.95,0A0.95,0.95,0,1,0,-0.95,0Z","M0,-1.15L0.27,-0.37L1.09,-0.36L0.44,0.14L0.68,0.93L0,0.46L-0.68,0.93L-0.44,0.14L-1.09,-0.36L-0.27,-0.37Z","M-0.85,-0.85H0.85V0.85H-0.85Z"]}},
  "fill":{"field":"s","type":"nominal","legend":null,"scale":{"domain":["S11-A","S11-B","S11-C","S11-D","S21-A","S21-B","S21-C","S21-D","S22-A","S22-B","S22-C","S22-D"],"range":["#2b3cff","#ee2222","#228b22","#1a1a1a","#ffffff","#ffffff","#ffffff","#ffffff","#ffffff","#ffffff","#ffffff","#ffffff"]}},
  "stroke":{"field":"s","type":"nominal","legend":null,"scale":{"domain":["S11-A","S11-B","S11-C","S11-D","S21-A","S21-B","S21-C","S21-D","S22-A","S22-B","S22-C","S22-D"],"range":["#2b3cff","#ee2222","#228b22","#1a1a1a","#2b3cff","#ee2222","#228b22","#1a1a1a","#2b3cff","#ee2222","#228b22","#1a1a1a"]}}}},
{"transform":[{"filter":"datum.f < 0"}],
 "mark":{"type":"point","size":100,"strokeWidth":1.5,"opacity":1},
 "encoding":{
  "x":{"field":"f","type":"quantitative","scale":{"domain":[500,3000],"nice":false,"zero":false},"axis":null},
  "y":{"field":"v","type":"quantitative","scale":{"domain":[-30,8],"nice":false,"zero":false},"axis":null},
  "shape":{"field":"s","type":"nominal",
   "legend":{"title":null,"orient":"none","legendX":28,"legendY":7,"columns":4,"symbolSize":100,"symbolStrokeWidth":1.5,"symbolOffset":14,"labelOffset":12.5,"labelFont":"Liberation Sans","labelFontSize":15,"labelColor":"#000","columnPadding":48.5,"rowPadding":1.5,"gridAlign":"all","padding":0},
   "scale":{"domain":["S11-A","S21-A","S22-A","S11-B","S21-B","S22-B","S11-C","S21-C","S22-C","S11-D","S21-D","S22-D"],
   "range":["M-3.4,0H-0.61M0.61,0H3.4M-1.1,-0.85L1.1,-0.85L0,1.05Z","M-3.4,0H-0.61M0.61,0H3.4M-1.1,-0.85L1.1,-0.85L0,1.05Z","M-3.4,0h0.25M-2.8,0h0.25M-2.2,0h0.25M-1.6,0h0.25M1.35,0h0.25M1.95,0h0.25M2.55,0h0.25M3.15,0h0.25M-1.1,-0.85L1.1,-0.85L0,1.05Z",
    "M-3.4,0H-0.95M0.95,0H3.4M-0.95,0A0.95,0.95,0,1,0,0.95,0A0.95,0.95,0,1,0,-0.95,0Z","M-3.4,0H-0.95M0.95,0H3.4M-0.95,0A0.95,0.95,0,1,0,0.95,0A0.95,0.95,0,1,0,-0.95,0Z","M-3.4,0h0.25M-2.8,0h0.25M-2.2,0h0.25M-1.6,0h0.25M1.35,0h0.25M1.95,0h0.25M2.55,0h0.25M3.15,0h0.25M-0.95,0A0.95,0.95,0,1,0,0.95,0A0.95,0.95,0,1,0,-0.95,0Z",
    "M-3.4,0H-0.6M0.6,0H3.4M0,-1.15L0.27,-0.37L1.09,-0.36L0.44,0.14L0.68,0.93L0,0.46L-0.68,0.93L-0.44,0.14L-1.09,-0.36L-0.27,-0.37Z","M-3.4,0H-0.6M0.6,0H3.4M0,-1.15L0.27,-0.37L1.09,-0.36L0.44,0.14L0.68,0.93L0,0.46L-0.68,0.93L-0.44,0.14L-1.09,-0.36L-0.27,-0.37Z","M-3.4,0h0.25M-2.8,0h0.25M-2.2,0h0.25M-1.6,0h0.25M1.35,0h0.25M1.95,0h0.25M2.55,0h0.25M3.15,0h0.25M0,-1.15L0.27,-0.37L1.09,-0.36L0.44,0.14L0.68,0.93L0,0.46L-0.68,0.93L-0.44,0.14L-1.09,-0.36L-0.27,-0.37Z",
    "M-3.4,0H-0.85M0.85,0H3.4M-0.85,-0.85H0.85V0.85H-0.85Z","M-3.4,0H-0.85M0.85,0H3.4M-0.85,-0.85H0.85V0.85H-0.85Z","M-3.4,0h0.25M-2.8,0h0.25M-2.2,0h0.25M-1.6,0h0.25M1.35,0h0.25M1.95,0h0.25M2.55,0h0.25M3.15,0h0.25M-0.85,-0.85H0.85V0.85H-0.85Z"]}},
  "fill":{"field":"s","type":"nominal",
   "legend":{"title":null,"orient":"none","legendX":28,"legendY":7,"columns":4,"symbolSize":100,"symbolStrokeWidth":1.5,"symbolOffset":14,"labelOffset":12.5,"labelFont":"Liberation Sans","labelFontSize":15,"labelColor":"#000","columnPadding":48.5,"rowPadding":1.5,"gridAlign":"all","padding":0},
   "scale":{"domain":["S11-A","S21-A","S22-A","S11-B","S21-B","S22-B","S11-C","S21-C","S22-C","S11-D","S21-D","S22-D"],"range":["#2b3cff","#ffffff","#ffffff","#ee2222","#ffffff","#ffffff","#228b22","#ffffff","#ffffff","#1a1a1a","#ffffff","#ffffff"]}},
  "stroke":{"field":"s","type":"nominal",
   "legend":{"title":null,"orient":"none","legendX":28,"legendY":7,"columns":4,"symbolSize":100,"symbolStrokeWidth":1.5,"symbolOffset":14,"labelOffset":12.5,"labelFont":"Liberation Sans","labelFontSize":15,"labelColor":"#000","columnPadding":48.5,"rowPadding":1.5,"gridAlign":"all","padding":0},
   "scale":{"domain":["S11-A","S21-A","S22-A","S11-B","S21-B","S22-B","S11-C","S21-C","S22-C","S11-D","S21-D","S22-D"],"range":["#2b3cff","#2b3cff","#2b3cff","#ee2222","#ee2222","#ee2222","#228b22","#228b22","#228b22","#1a1a1a","#1a1a1a","#1a1a1a"]}}}}
]
}
